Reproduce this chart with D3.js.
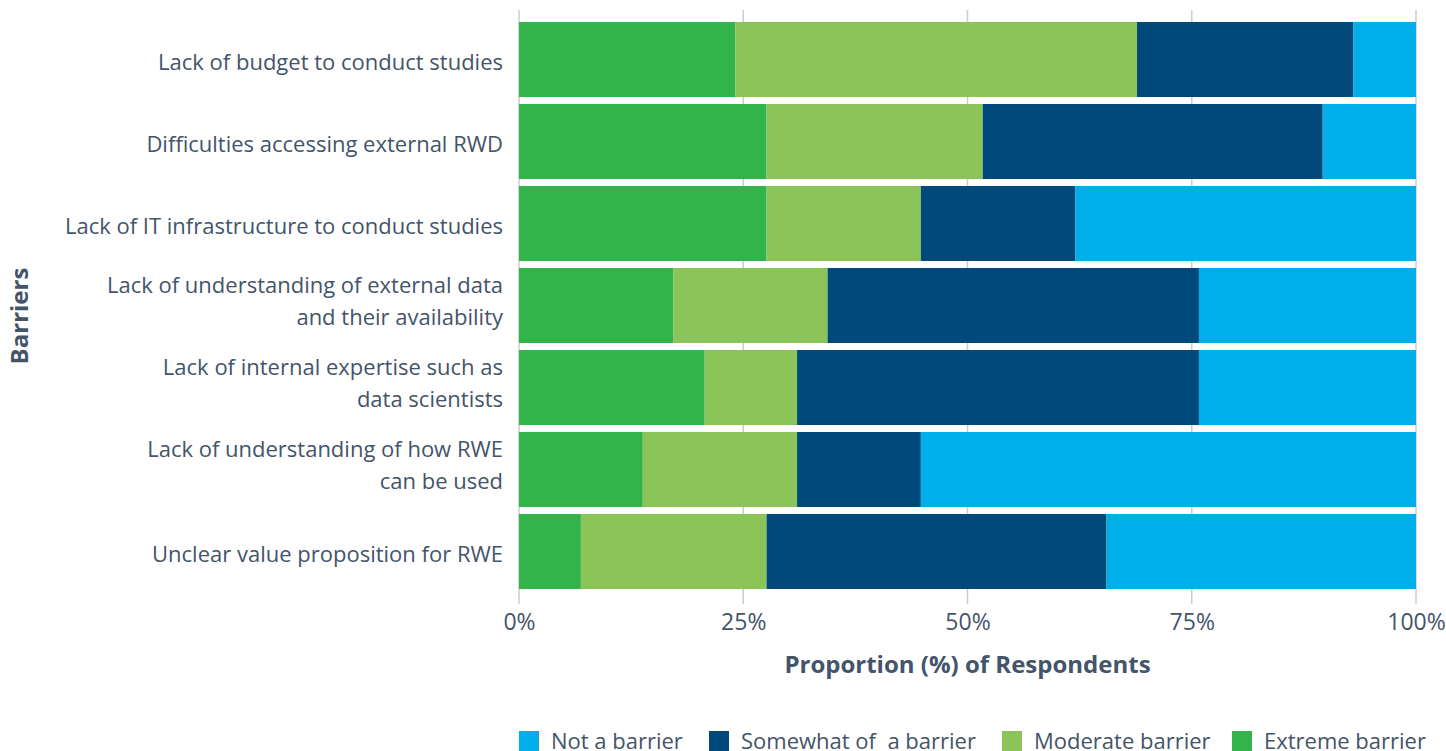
<!DOCTYPE html>
<meta charset="utf-8">
<script src="https://d3js.org/d3.v7.min.js"></script>
<html>
<head>
<style>
  body { margin: 0; background: #fff; }
  text { font-family: "Open Sans", "Noto Sans", sans-serif; fill: #44546a; }
</style>
</head>
<body>
<div id="chart"></div>
<script>
// barriers, top to bottom
var barriers = [
  ["Lack of budget to conduct studies"],
  ["Difficulties accessing external RWD"],
  ["Lack of IT infrastructure to conduct studies"],
  ["Lack of understanding of external data", "and their availability"],
  ["Lack of internal expertise such as", "data scientists"],
  ["Lack of understanding of how RWE", "can be used"],
  ["Unclear value proposition for RWE"]
];

// percentages, stacked left to right
var extreme  = [24.1, 27.6, 27.6, 17.2, 20.7, 13.8, 6.9];
var moderate = [44.8, 24.1, 17.2, 17.2, 10.3, 17.2, 20.7];
var somewhat = [24.1, 37.9, 17.2, 41.4, 44.8, 13.8, 37.9];
var notBarrier = [7.0, 10.4, 38.0, 24.2, 24.2, 55.2, 34.5];

var tickValues = [0, 25, 50, 75, 100];

var seriesKeys = ["extreme", "moderate", "somewhat", "not"];
var colors = {extreme: "#33b44a", moderate: "#8bc55a", somewhat: "#00497a", not: "#00aeea"};
var legendItems = [
  {key: "not", label: "Not a barrier"},
  {key: "somewhat", label: "Somewhat of\u00a0 a barrier"},
  {key: "moderate", label: "Moderate barrier"},
  {key: "extreme", label: "Extreme barrier"}
];

var width = 1446, height = 751;
var left = 519, right = 1416;

var rows = barriers.map(function(b, i) {
  return {id: i, extreme: extreme[i], moderate: moderate[i], somewhat: somewhat[i], not: notBarrier[i]};
});

var svg = d3.select("#chart").append("svg")
  .attr("width", width)
  .attr("height", height);

var x = d3.scaleLinear().domain([0, 100]).range([left, right]);
var y = d3.scaleBand()
  .domain(d3.range(barriers.length))
  .range([18.5, 592.5])
  .paddingInner(0.0854)
  .paddingOuter(0.0427);

// grid lines
svg.append("g")
  .selectAll("line")
  .data(tickValues)
  .enter().append("line")
    .attr("x1", function(d) { return x(d); })
    .attr("x2", function(d) { return x(d); })
    .attr("y1", 10)
    .attr("y2", 604)
    .attr("stroke", "#cccccc")
    .attr("stroke-width", 1.5);

// bars
var stack = d3.stack().keys(seriesKeys);
svg.append("g")
  .selectAll("g")
  .data(stack(rows))
  .enter().append("g")
    .attr("fill", function(d) { return colors[d.key]; })
  .selectAll("rect")
  .data(function(d) { return d; })
  .enter().append("rect")
    .attr("x", function(d) { return x(d[0]); })
    .attr("width", function(d) { return x(d[1]) - x(d[0]); })
    .attr("y", function(d) { return y(d.data.id); })
    .attr("height", y.bandwidth());

// x axis labels
var xAxis = svg.append("g")
  .attr("transform", "translate(0,604)")
  .call(d3.axisBottom(x).tickValues(tickValues).tickSize(0).tickPadding(0)
    .tickFormat(function(d) { return d + "%"; }));
xAxis.select(".domain").remove();
xAxis.selectAll("text")
  .attr("font-size", 23)
  .attr("y", 26)
  .attr("dy", 0)
  .style("font-family", "'Open Sans', 'Noto Sans', sans-serif")
  .attr("fill", "#44546a");

// category labels
var labels = svg.append("g")
  .selectAll("text")
  .data(barriers)
  .enter().append("text")
    .attr("text-anchor", "end")
    .attr("font-size", 22)
    .attr("y", function(d, i) { return y(i) + y.bandwidth() / 2; });
labels.each(function(d) {
  var t = d3.select(this);
  d.forEach(function(line, j) {
    t.append("tspan")
      .attr("x", 503)
      .attr("dy", j === 0 ? (d.length > 1 ? "-13px" : "10.5px") : "32px")
      .text(line);
  });
});

// axis titles
svg.append("text")
  .attr("x", (left + right) / 2)
  .attr("y", 673)
  .attr("text-anchor", "middle")
  .attr("font-size", 24)
  .attr("font-weight", "bold")
  .text("Proportion (%) of Respondents");

svg.append("text")
  .attr("transform", "translate(28,316) rotate(-90)")
  .attr("text-anchor", "middle")
  .attr("font-size", 24)
  .attr("font-weight", "bold")
  .text("Barriers");

// legend
var legendX = [519, 709, 1002, 1232];
var legend = svg.append("g")
  .selectAll("g")
  .data(legendItems)
  .enter().append("g")
    .attr("transform", function(d, i) { return "translate(" + legendX[i] + ",731)"; });
legend.append("rect")
  .attr("width", 20)
  .attr("height", 20)
  .attr("fill", function(d) { return colors[d.key]; });
legend.append("text")
  .attr("x", 32)
  .attr("y", 18)
  .attr("font-size", 22)
  .text(function(d) { return d.label; });
</script>
</body>
</html>
